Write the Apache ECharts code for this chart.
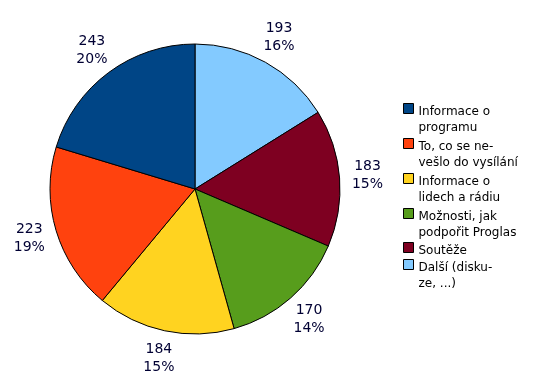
<!DOCTYPE html>
<html><head><meta charset="utf-8">
<script src="https://cdn.jsdelivr.net/npm/echarts@6/dist/echarts.min.js"></script>
<style>html,body{margin:0;padding:0;background:#fff}#c{width:537px;height:389px}</style>
</head><body><div id="c"></div>
<script>
const categories = ['Informace o programu','To, co se nevešlo do vysílání','Informace o lidech a rádiu','Možnosti, jak podpořit Proglas','Soutěže','Další (diskuze, ...)'];
const legendLabels = ['Informace o\nprogramu','To, co se ne-\nvešlo do vysílání','Informace o\nlidech a rádiu','Možnosti, jak\npodpořit Proglas','Soutěže','Další (disku-\nze, ...)'];
const values = [243, 223, 184, 170, 183, 193];
const colors = ['#004586','#ff420e','#ffd320','#579d1c','#7e0021','#83caff'];

const pieData = categories.map((n, i) => ({name: n, value: values[i], itemStyle: {color: colors[i]}})).reverse();
const labelData = categories.map((n, i) => ({name: n, value: values[i]})).reverse();

const font = 'DejaVu Sans, Verdana, sans-serif';
const legendFmt = name => legendLabels[categories.indexOf(name)];
const legendBase = {
  orient: 'vertical', left: 403, itemWidth: 10, itemGap: 2, padding: 0,
  formatter: legendFmt, selectedMode: false,
  textStyle: {fontFamily: font, fontSize: 12, color: '#000', lineHeight: 16},
  itemStyle: {borderColor: '#000', borderWidth: 1}
};

const chart = echarts.init(document.getElementById('c'), null, {renderer: 'canvas'});
chart.setOption({
  animation: false,
  backgroundColor: '#fff',
  legend: [
    Object.assign({}, legendBase, {data: categories.slice(0, 4), top: 103, itemHeight: 32, icon: 'path://M0,0H10V10H0Z M0,32'}),
    Object.assign({}, legendBase, {data: [categories[4]], top: 242, itemHeight: 16, icon: 'path://M0,0H10V10H0Z M0,16'}),
    Object.assign({}, legendBase, {data: [categories[5]], top: 259, itemHeight: 32, icon: 'path://M0,0H10V10H0Z M0,32'})
  ],
  series: [
    {
      type: 'pie', radius: 145, center: [195, 189], startAngle: 90, clockwise: true,
      data: pieData,
      label: {show: false}, labelLine: {show: false},
      itemStyle: {borderColor: '#000', borderWidth: 1},
      emphasis: {disabled: true}, silent: true
    },
    {
      type: 'pie', radius: [166, 174], center: [195, 189], startAngle: 90, clockwise: true,
      data: labelData,
      itemStyle: {color: 'rgba(0,0,0,0)', borderWidth: 0},
      label: {
        show: true, position: 'inside', color: '#000033',
        fontFamily: font, fontSize: 14, lineHeight: 18, align: 'center',
        formatter: p => p.value + '\n' + Math.round(p.percent) + '%'
      },
      labelLine: {show: false},
      emphasis: {disabled: true}, silent: true
    }
  ]
});
</script>
</body></html>
